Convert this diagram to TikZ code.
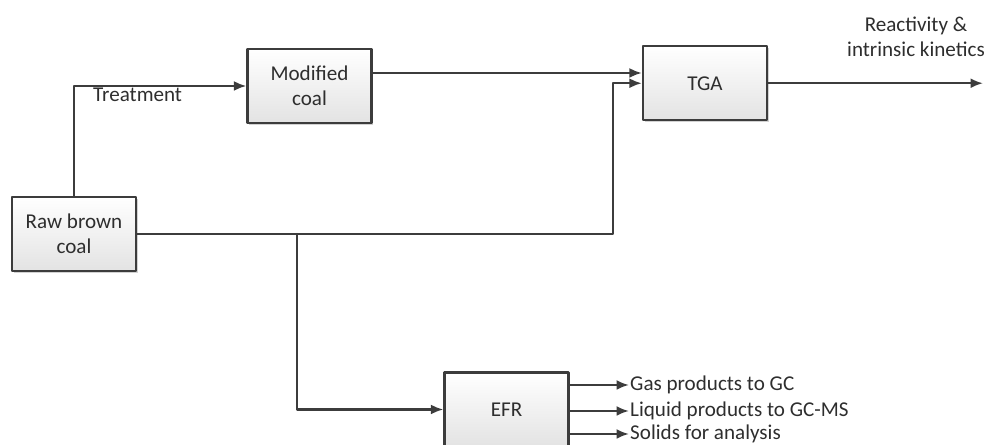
\documentclass[tikz,border=0pt]{standalone}
\usepackage{fontspec}
\setmainfont{Carlito}
\usetikzlibrary{arrows.meta,shadows}

\definecolor{linegray}{HTML}{3C3C3C}
\definecolor{textgray}{HTML}{2E2E2E}

\begin{document}
\begin{tikzpicture}[
	line cap=round,
	line join=round,
	every node/.style={font=\fontsize{12}{14.5}\selectfont, text=textgray},
	box/.style={draw=linegray, line width=1.3pt, top color=white, bottom color=black!11,
		minimum width=2.48cm, minimum height=1.48cm, align=center,
		drop shadow={shadow xshift=1pt, shadow yshift=-1pt, fill=black!35, opacity=0.5}},
	flow/.style={draw=linegray, line width=1.3pt, -{Latex[length=2.5mm,width=2mm]}},
	lbl/.style={inner sep=0.5pt}
	]
	
	% Frame
	\useasboundingbox (0,0) rectangle (19.68,8.9);
	
	% Boxes
	\node[box] (raw) at (1.48,4.22) {Raw brown\\coal};
	\node[box] (mod) at (6.19,7.18) {Modified\\coal};
	\node[box] (tga) at (14.10,7.235) {TGA};
	\node[box] (efr) at (10.13,0.71) {EFR};
	
	% Labels
	\node[lbl, anchor=base west] (treat) at (1.84,6.86) {Treatment};
	\node[lbl, align=center] (react) at (18.32,8.16) {Reactivity \&\\intrinsic kinetics};
	\node[lbl, anchor=west] (gas) at (12.58,1.20) {Gas products to GC};
	\node[lbl, anchor=west] (liq) at (12.58,0.68) {Liquid products to GC-MS};
	\node[lbl, anchor=west] (sol) at (12.58,0.22) {Solids for analysis};
	
	% Helper points
	\coordinate (m1) at ([yshift=0.26cm]mod.east);
	\coordinate (split) at (5.94,4.22);
	\coordinate (rise) at (12.26,4.22);
	\coordinate (out) at (19.66,7.235);
	
	% Treatment path
	\draw[flow] (raw.north) |- (mod.west);
	
	% Into TGA
	\draw[flow] (m1) -- (m1 -| tga.west);
	\draw[flow] (raw.east) -- (rise) |- (tga.west);
	\draw[flow] (tga.east) -- (out);
	
	% Into EFR
	\draw[flow] (split) |- (efr.west);
	
	% EFR products
	\draw[flow] (efr.east |- gas.west) -- (gas.west);
	\draw[flow] (efr.east |- liq.west) -- (liq.west);
	\draw[flow] (efr.east |- sol.west) -- (sol.west);
	
\end{tikzpicture}
\end{document}
